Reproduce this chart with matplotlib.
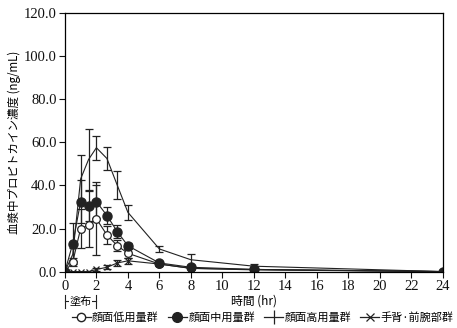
import matplotlib
matplotlib.use("Agg")
import matplotlib.pyplot as plt
from matplotlib.lines import Line2D
from matplotlib import font_manager

serif = 'Liberation Serif'
names = {f.name for f in font_manager.fontManager.ttflist}
if serif not in names:
    serif = 'DejaVu Serif'
plt.rcParams['font.family'] = [serif, 'Noto Sans CJK JP']

t = [0, 0.5, 1, 1.5, 2, 2.67, 3.33, 4, 6, 8, 12, 24]

low = [0, 4.5, 20, 21.5, 24.5, 17, 12, 8.5, 3.5, 1.5, 1.0, 0]
low_err = [0, 2, 9, 10, 17, 4, 2.5, 2, 1, 0.5, 0.5, 0]
mid = [0, 13, 32.5, 30.5, 32.5, 26, 18.5, 12, 4, 2, 1, 0]
mid_err = [0, 9.5, 10, 7, 7.5, 4, 3, 1.5, 1, 1, 0.5, 0]
high = [0, 8, 43, 52, 57.5, 52.5, 40, 27.5, 10.5, 5.5, 2.5, 0]
high_err = [0, 3, 11, 14, 5.5, 5.5, 6.5, 3.5, 1.5, 2.5, 1.2, 0]
back = [0, 0, 0, 0, 1, 2, 4, 5, 3.5, 1.5, 0.8, 0]
back_err = [0, 0, 0, 0, 0.5, 1, 1.5, 1.5, 0.5, 0.5, 0.5, 0]

labels = ['顔面低用量群', '顔面中用量群', '顔面高用量群', '手背·前腕部群']

fig = plt.figure(figsize=(4.57, 3.28), dpi=100)
ax = fig.add_axes([0.142, 0.172, 0.827, 0.788])

c = '#222222'
kw = dict(color=c, ecolor=c, lw=0.8, elinewidth=0.9, capsize=3, capthick=0.9)
ax.errorbar(t, high, yerr=high_err, marker='', **kw)
ax.errorbar(t, low, yerr=low_err, marker='o', ms=5.5, mfc='white', mec=c, mew=0.9, **kw)
ax.errorbar(t, mid, yerr=mid_err, marker='o', ms=6.5, mfc=c, mec=c, **kw)
ax.errorbar(t, back, yerr=back_err, marker='x', ms=5, mew=0.9, **kw)

ax.set_xlim(0, 24)
ax.set_ylim(0, 120)
ax.set_xticks(range(0, 25, 2))
ax.set_yticks(range(0, 121, 20))
ax.set_yticklabels([f'{v:.1f}' for v in range(0, 121, 20)])
ax.tick_params(direction='out', length=4, width=0.8, labelsize=10.5, colors='#111111', pad=2)
for lab in ax.get_xticklabels() + ax.get_yticklabels():
    lab.set_family(serif)
for s in ax.spines.values():
    s.set_linewidth(0.9)

ax.set_ylabel('血漿中プロピトカイン濃度 (ng/mL)', fontsize=8.3, labelpad=2,
              family=['Noto Sans CJK JP'])
ax.set_xlabel('時間 (hr)', fontsize=8.5, labelpad=1, family=['Noto Sans CJK JP'])

# 塗布 bracket
yb = -0.115
xt = ax.get_xaxis_transform()
ax.plot([0, 2], [yb, yb], color=c, lw=0.8, transform=xt, clip_on=False)
for xx in (0, 2):
    ax.plot([xx, xx], [yb - 0.025, yb + 0.025], color=c, lw=0.8, transform=xt, clip_on=False)
ax.text(1, yb, '塗布', ha='center', va='center', fontsize=8, family=['Noto Sans CJK JP'],
        transform=xt, bbox=dict(fc='white', ec='none', pad=0.3))

handles = [
    Line2D([], [], color=c, lw=0.9, marker='o', ms=6, mfc='white', mec=c),
    Line2D([], [], color=c, lw=0.9, marker='o', ms=7, mfc=c, mec=c),
    Line2D([], [], color=c, lw=0.9, marker='|', ms=10, mew=0.9),
    Line2D([], [], color=c, lw=0.9, marker='x', ms=6, mew=0.9),
]
fig.legend(handles, labels, loc='center', bbox_to_anchor=(0.575, 0.033), ncol=4, frameon=False,
           handlelength=1.7, handletextpad=0.15, columnspacing=0.8,
           prop={'family': ['Noto Sans CJK JP'], 'size': 8})

fig.savefig('out.png', dpi=100)
